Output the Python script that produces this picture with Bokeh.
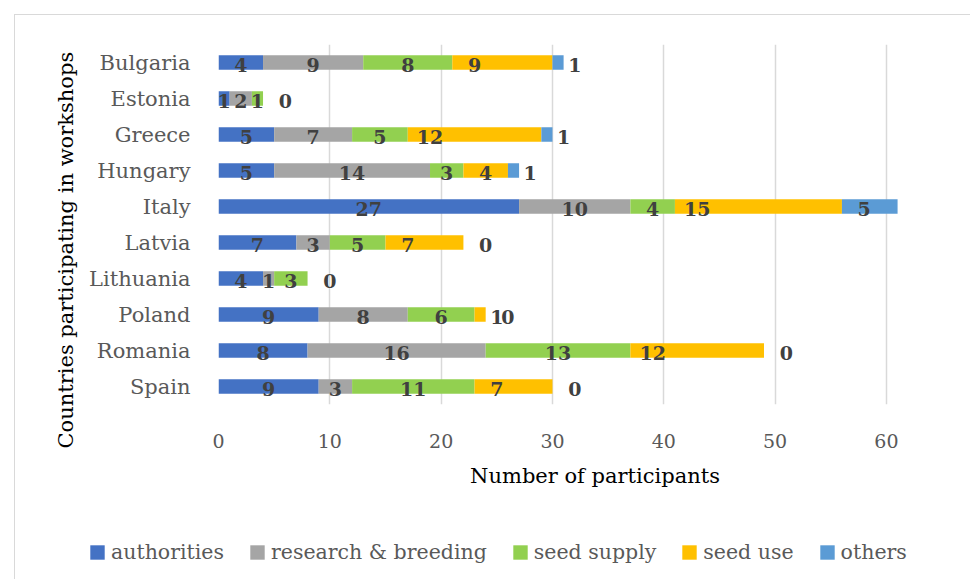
from bokeh.plotting import figure
from bokeh.models import (ColumnDataSource, FactorRange, Range1d, Legend,
                          LegendItem, Title, FixedTicker)
from bokeh.embed import file_html
from bokeh.resources import INLINE
from bokeh.core.properties import value

countries = ["Bulgaria", "Estonia", "Greece", "Hungary", "Italy", "Latvia",
             "Lithuania", "Poland", "Romania", "Spain"]
authorities = [4, 1, 5, 5, 27, 7, 4, 9, 8, 9]
research_breeding = [9, 2, 7, 14, 10, 3, 1, 8, 16, 3]
seed_supply = [8, 1, 5, 3, 4, 5, 3, 6, 13, 11]
seed_use = [9, 0, 12, 4, 15, 7, 0, 1, 12, 7]
others = [1, 0, 1, 1, 5, 0, 0, 0, 0, 0]
series_names = ["authorities", "research & breeding", "seed supply", "seed use", "others"]
series_keys = ["authorities", "research", "supply", "use", "others"]
colors = ["#4472C4", "#A5A5A5", "#92D050", "#FFC000", "#5B9BD5"]
x_ticks = [0, 10, 20, 30, 40, 50, 60]
x_title = "Number of participants"
y_title = "Countries participating in workshops"

FONT = "DejaVu Serif"
stack = [authorities, research_breeding, seed_supply, seed_use, others]

source = ColumnDataSource(dict(country=countries,
                               **{k: v for k, v in zip(series_keys, stack)}))

p = figure(width=956, height=489,
           y_range=FactorRange(factors=countries[::-1]),
           x_range=Range1d(0, 67.64),
           output_backend="svg", toolbar_location=None,
           min_border_left=203, min_border_right=0,
           min_border_top=29, min_border_bottom=100)
p.outline_line_color = None
p.styles = {"margin-left": "14px", "margin-top": "14px",
            "border-left": "1px solid #d9d9d9", "border-top": "1px solid #d9d9d9"}

p.hbar_stack(series_keys, y="country", height=0.4, color=colors,
             line_color=None, source=source)

# data labels
lx, ly, lt = [], [], []
for i, c in enumerate(countries):
    start = 0
    for k, vals in enumerate(stack):
        v = vals[i]
        if k < 3:
            x = start + v / 2
        else:
            x = start + 2
        if not (k == 3 and v == 0):
            lx.append(x)
            ly.append(c)
            lt.append(str(v))
        start += v
lsrc = ColumnDataSource(dict(x=lx, y=ly, t=lt))
p.text(x="x", y="y", text="t", source=lsrc, text_font=value(FONT),
       text_font_style="bold", text_font_size="19px", text_color="#404040",
       text_align="center", text_baseline="middle", y_offset=2)

# grid
p.xgrid.ticker = FixedTicker(ticks=x_ticks)
p.xgrid.grid_line_color = "#d9d9d9"
p.xgrid.grid_line_width = 1.5
p.ygrid.grid_line_color = None

# x axis
xa = p.xaxis[0]
xa.ticker = FixedTicker(ticks=x_ticks)
xa.axis_line_color = None
xa.major_tick_line_color = None
xa.minor_tick_line_color = None
xa.major_tick_out = 0
xa.major_label_text_font = FONT
xa.major_label_text_font_size = "19px"
xa.major_label_text_color = "#595959"
xa.major_label_standoff = 29
xa.axis_label = x_title
xa.axis_label_text_font = FONT
xa.axis_label_text_font_size = "21px"
xa.axis_label_text_font_style = "normal"
xa.axis_label_text_color = "black"
xa.axis_label_standoff = 13

# y axis
ya = p.yaxis[0]
ya.axis_line_color = None
ya.major_tick_line_color = None
ya.minor_tick_line_color = None
ya.major_tick_out = 0
ya.major_label_text_font = FONT
ya.major_label_text_font_size = "21px"
ya.major_label_text_color = "#595959"
ya.major_label_standoff = 28

ytitle = Title(text=y_title, align="left", offset=-44, standoff=18,
               text_font=FONT, text_font_size="21px",
               text_font_style="normal", text_color="black")
p.add_layout(ytitle, "left")

# legend strip below the chart (hidden copies of the bars supply the swatches)
p2 = figure(width=956, height=76, output_backend="svg", toolbar_location=None,
            y_range=FactorRange(factors=countries[::-1]),
            x_range=Range1d(0, 67.64),
            min_border=0, min_border_left=0, min_border_right=0,
            min_border_top=0, min_border_bottom=0)
p2.styles = {"margin-left": "14px", "border-left": "1px solid #d9d9d9"}
p2.axis.visible = False
p2.grid.grid_line_color = None
p2.outline_line_color = None
rs = p2.hbar_stack(series_keys, y="country", height=0.4, color=colors,
                   line_color=None, source=source)
for r in rs:
    r.visible = False
legend = Legend(items=[LegendItem(label=n, renderers=[r])
                       for n, r in zip(series_names, rs)],
                orientation="horizontal", location=(73, 15),
                glyph_width=18, glyph_height=18, label_standoff=5, spacing=24,
                padding=0, margin=0, border_line_color=None,
                background_fill_alpha=0, inactive_fill_alpha=0,
                label_text_font=FONT, label_text_font_size="20.5px",
                label_text_color="#595959")
p2.add_layout(legend)

open("out.html", "w").write(file_html([p, p2], INLINE))
